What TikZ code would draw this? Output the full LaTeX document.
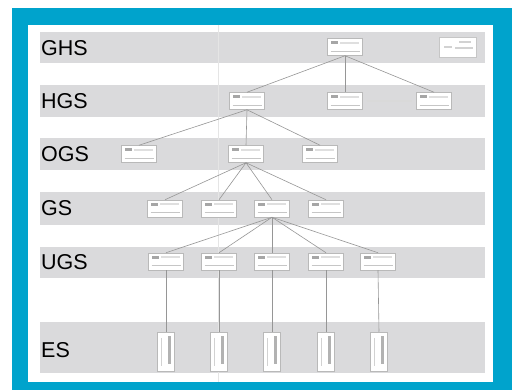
\documentclass[tikz,border=0pt]{standalone}
\usepackage{fontspec}
\setmainfont{Liberation Sans}
\usetikzlibrary{calc}
\definecolor{frameblue}{RGB}{0,163,204}
\definecolor{bandgray}{RGB}{218,218,220}
\definecolor{edgegray}{RGB}{150,150,150}
\begin{document}
\begin{tikzpicture}[x=1pt,y=-1pt,
  band/.style={fill=bandgray,draw=none},
  lvl/.style={anchor=west,inner sep=0pt,font=\fontsize{21.5}{24}\selectfont},
  nbox/.style={draw=gray!55,fill=white,line width=0.5pt,minimum width=35pt,minimum height=17pt,inner sep=0pt,
    path picture={
      \fill[gray!70] ([xshift=3pt,yshift=-3pt]path picture bounding box.north west) rectangle ++(7pt,-3pt);
      \fill[gray!25] ([xshift=12pt,yshift=-3.5pt]path picture bounding box.north west) rectangle ++(19pt,-2pt);
      \draw[gray!45,line width=0.6pt] ([xshift=3pt,yshift=4.5pt]path picture bounding box.south west) -- ++(29pt,0);
    }},
  vbox/.style={draw=gray!55,fill=white,line width=0.5pt,minimum width=17pt,minimum height=39pt,inner sep=0pt,
    path picture={
      \fill[gray!60] ([xshift=-4pt,yshift=-4pt]path picture bounding box.north east) rectangle ++(-3pt,-28pt);
      \draw[gray!35,line width=0.6pt] ([xshift=4pt,yshift=-6pt]path picture bounding box.north west) -- ++(0,-28pt);
    }},
  lbox/.style={draw=gray!45,fill=white,line width=0.5pt,minimum width=37pt,minimum height=20pt,inner sep=0pt,
    path picture={
      \fill[gray!35] ([xshift=-6pt,yshift=-4pt]path picture bounding box.north east) rectangle ++(-12pt,-2pt);
      \fill[gray!35] ([xshift=4pt,yshift=-9pt]path picture bounding box.north west) rectangle ++(8pt,-2pt);
      \fill[gray!35] ([xshift=-4pt,yshift=-10pt]path picture bounding box.north east) rectangle ++(-18pt,-2pt);
    }},
  edge/.style={draw=edgegray,line width=0.6pt}
]
\useasboundingbox (0,0) rectangle (512,390);
\fill[white] (0,0) rectangle (512,390);
\fill[frameblue] (12,8) rectangle (512,390);
\fill[white] (28,25) rectangle (493,382);
% bands
\fill[band] (40,32) rectangle (485,63);
\fill[band] (40,85) rectangle (485,117);
\fill[band] (40,138) rectangle (485,170);
\fill[band] (40,192) rectangle (485,225);
\fill[band] (40,247) rectangle (485,278);
\fill[band] (40,322) rectangle (485,373);
% faint guide line
\draw[gray!20,line width=0.4pt] (218,25) -- (218,382);
% level labels
\node[lvl] (lghs) at (41,48) {GHS};
\node[lvl] (lhgs) at (41,101) {HGS};
\node[lvl] (logs) at (41,154) {OGS};
\node[lvl] (lgs)  at (41,208) {GS};
\node[lvl] (lugs) at (41,262) {UGS};
\node[lvl] (les)  at (41,350) {ES};
% nodes
\node[nbox] (g1) at (345,47) {};
\node[lbox] (leg) at (458,47) {};
\node[nbox] (h1) at (247,101) {};
\node[nbox] (h2) at (345,101) {};
\node[nbox] (h3) at (434,101) {};
\node[nbox] (o1) at (139,154) {};
\node[nbox] (o2) at (246,154) {};
\node[nbox] (o3) at (320,154) {};
\node[nbox] (s1) at (165,208.5) {};
\node[nbox] (s2) at (219,208.5) {};
\node[nbox] (s3) at (272,208.5) {};
\node[nbox] (s4) at (326,208.5) {};
\node[nbox] (u1) at (166,261.5) {};
\node[nbox] (u2) at (219,261.5) {};
\node[nbox] (u3) at (272,261.5) {};
\node[nbox] (u4) at (326,261.5) {};
\node[nbox] (u5) at (378,261.5) {};
\node[vbox] (e1) at (166,351.5) {};
\node[vbox] (e2) at (219,351.5) {};
\node[vbox] (e3) at (272,351.5) {};
\node[vbox] (e4) at (326,351.5) {};
\node[vbox] (e5) at (379,351.5) {};
% connectors
\foreach \t in {h1,h2,h3} \draw[edge] (g1.south) -- (\t.north);
\draw[gray!30,line width=2.5pt] ($(h2.east)+(4,0)$) -- ($(h3.west)+(-4,0)$);
\foreach \t in {o1,o2,o3} \draw[edge] (h1.south) -- (\t.north);
\foreach \t in {s1,s2,s3,s4} \draw[edge] (o2.south) -- (\t.north);
\foreach \t in {u1,u2,u3,u4,u5} \draw[edge] (s3.south) -- (\t.north);
\draw[edge] (u1.south) -- (e1.north);
\draw[edge] (u2.south) -- (e2.north);
\draw[edge] (u3.south) -- (e3.north);
\draw[edge] (u4.south) -- (e4.north);
\draw[edge] (u5.south) -- (e5.north);
\end{tikzpicture}
\end{document}
